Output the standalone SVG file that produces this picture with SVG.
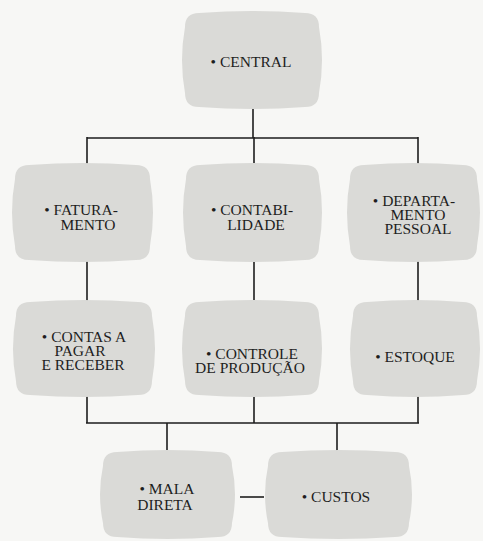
<svg xmlns="http://www.w3.org/2000/svg" width="483" height="541" viewBox="0 0 483 541">
<style>
.bg{fill:#f7f7f5}
.box{fill:#dadad7;stroke:none}
.lbl{font-family:"Liberation Serif","Times New Roman",serif;font-size:15.5px;fill:#1e1e1e;text-anchor:middle}
.con{stroke:#1e1e1e;stroke-width:1.6;fill:none}
</style>
<rect class="bg" x="0" y="0" width="483" height="541"/>
<g id="connectors">
<path class="con" d="M253,108V138M87,138H418M87,137V165M254,137V165M418,137V165"/>
<path class="con" d="M87,260V302M254,260V302M418,260V302"/>
<path class="con" d="M87,395V423M254,395V423M418,395V423M86,423H419M167,423V452M337,423V452"/>
<path class="con" d="M240,497H264"/>
</g>
<g id="central">
<path class="box" d="M199,13 Q252,9 305,13 Q319,13 319,27 Q325,60 319,93 Q319,107 305,107 Q252,111 199,107 Q185,107 185,93 Q179,60 185,27 Q185,13 199,13 Z"/>
<text class="lbl" x="251" y="67">• CENTRAL</text>
</g>
<g id="faturamento">
<path class="box" d="M29,165 Q82.5,161 136,165 Q150,165 150,179 Q156,212.5 150,246 Q150,260 136,260 Q82.5,264 29,260 Q15,260 15,246 Q9,212.5 15,179 Q15,165 29,165 Z"/>
<text class="lbl" x="81" y="215">• FATURA-</text>
<text class="lbl" x="88" y="230">MENTO</text>
</g>
<g id="contabilidade">
<path class="box" d="M200,165 Q252.5,161 305,165 Q319,165 319,179 Q325,212.5 319,246 Q319,260 305,260 Q252.5,264 200,260 Q186,260 186,246 Q180,212.5 186,179 Q186,165 200,165 Z"/>
<text class="lbl" x="252" y="215">• CONTABI-</text>
<text class="lbl" x="256" y="230">LIDADE</text>
</g>
<g id="departamento">
<path class="box" d="M364,165 Q413.5,161 463,165 Q477,165 477,179 Q483,212.5 477,246 Q477,260 463,260 Q413.5,264 364,260 Q350,260 350,246 Q344,212.5 350,179 Q350,165 364,165 Z"/>
<text class="lbl" x="414" y="206">• DEPARTA-</text>
<text class="lbl" x="418" y="220">MENTO</text>
<text class="lbl" x="418" y="234">PESSOAL</text>
</g>
<g id="contas">
<path class="box" d="M30,302 Q84,298 138,302 Q152,302 152,316 Q158,348.5 152,381 Q152,395 138,395 Q84,399 30,395 Q16,395 16,381 Q10,348.5 16,316 Q16,302 30,302 Z"/>
<text class="lbl" x="84" y="342">• CONTAS A</text>
<text class="lbl" x="80" y="356">PAGAR</text>
<text class="lbl" x="83" y="370">E RECEBER</text>
</g>
<g id="controle">
<path class="box" d="M199,302 Q252,298 305,302 Q319,302 319,316 Q325,348.5 319,381 Q319,395 305,395 Q252,399 199,395 Q185,395 185,381 Q179,348.5 185,316 Q185,302 199,302 Z"/>
<text class="lbl" x="252" y="359">• CONTROLE</text>
<text class="lbl" x="250" y="373">DE PRODUÇÃO</text>
</g>
<g id="estoque">
<path class="box" d="M367,302 Q415,298 463,302 Q477,302 477,316 Q483,348.5 477,381 Q477,395 463,395 Q415,399 367,395 Q353,395 353,381 Q347,348.5 353,316 Q353,302 367,302 Z"/>
<text class="lbl" x="415" y="362">• ESTOQUE</text>
</g>
<g id="mala">
<path class="box" d="M117,452 Q167.5,448 218,452 Q232,452 232,466 Q238,494.5 232,523 Q232,537 218,537 Q167.5,541 117,537 Q103,537 103,523 Q97,494.5 103,466 Q103,452 117,452 Z"/>
<text class="lbl" x="167" y="494">• MALA</text>
<text class="lbl" x="165" y="510">DIRETA</text>
</g>
<g id="custos">
<path class="box" d="M282,452 Q338.5,448 395,452 Q409,452 409,466 Q415,494.5 409,523 Q409,537 395,537 Q338.5,541 282,537 Q268,537 268,523 Q262,494.5 268,466 Q268,452 282,452 Z"/>
<text class="lbl" x="336" y="502">• CUSTOS</text>
</g>
</svg>
